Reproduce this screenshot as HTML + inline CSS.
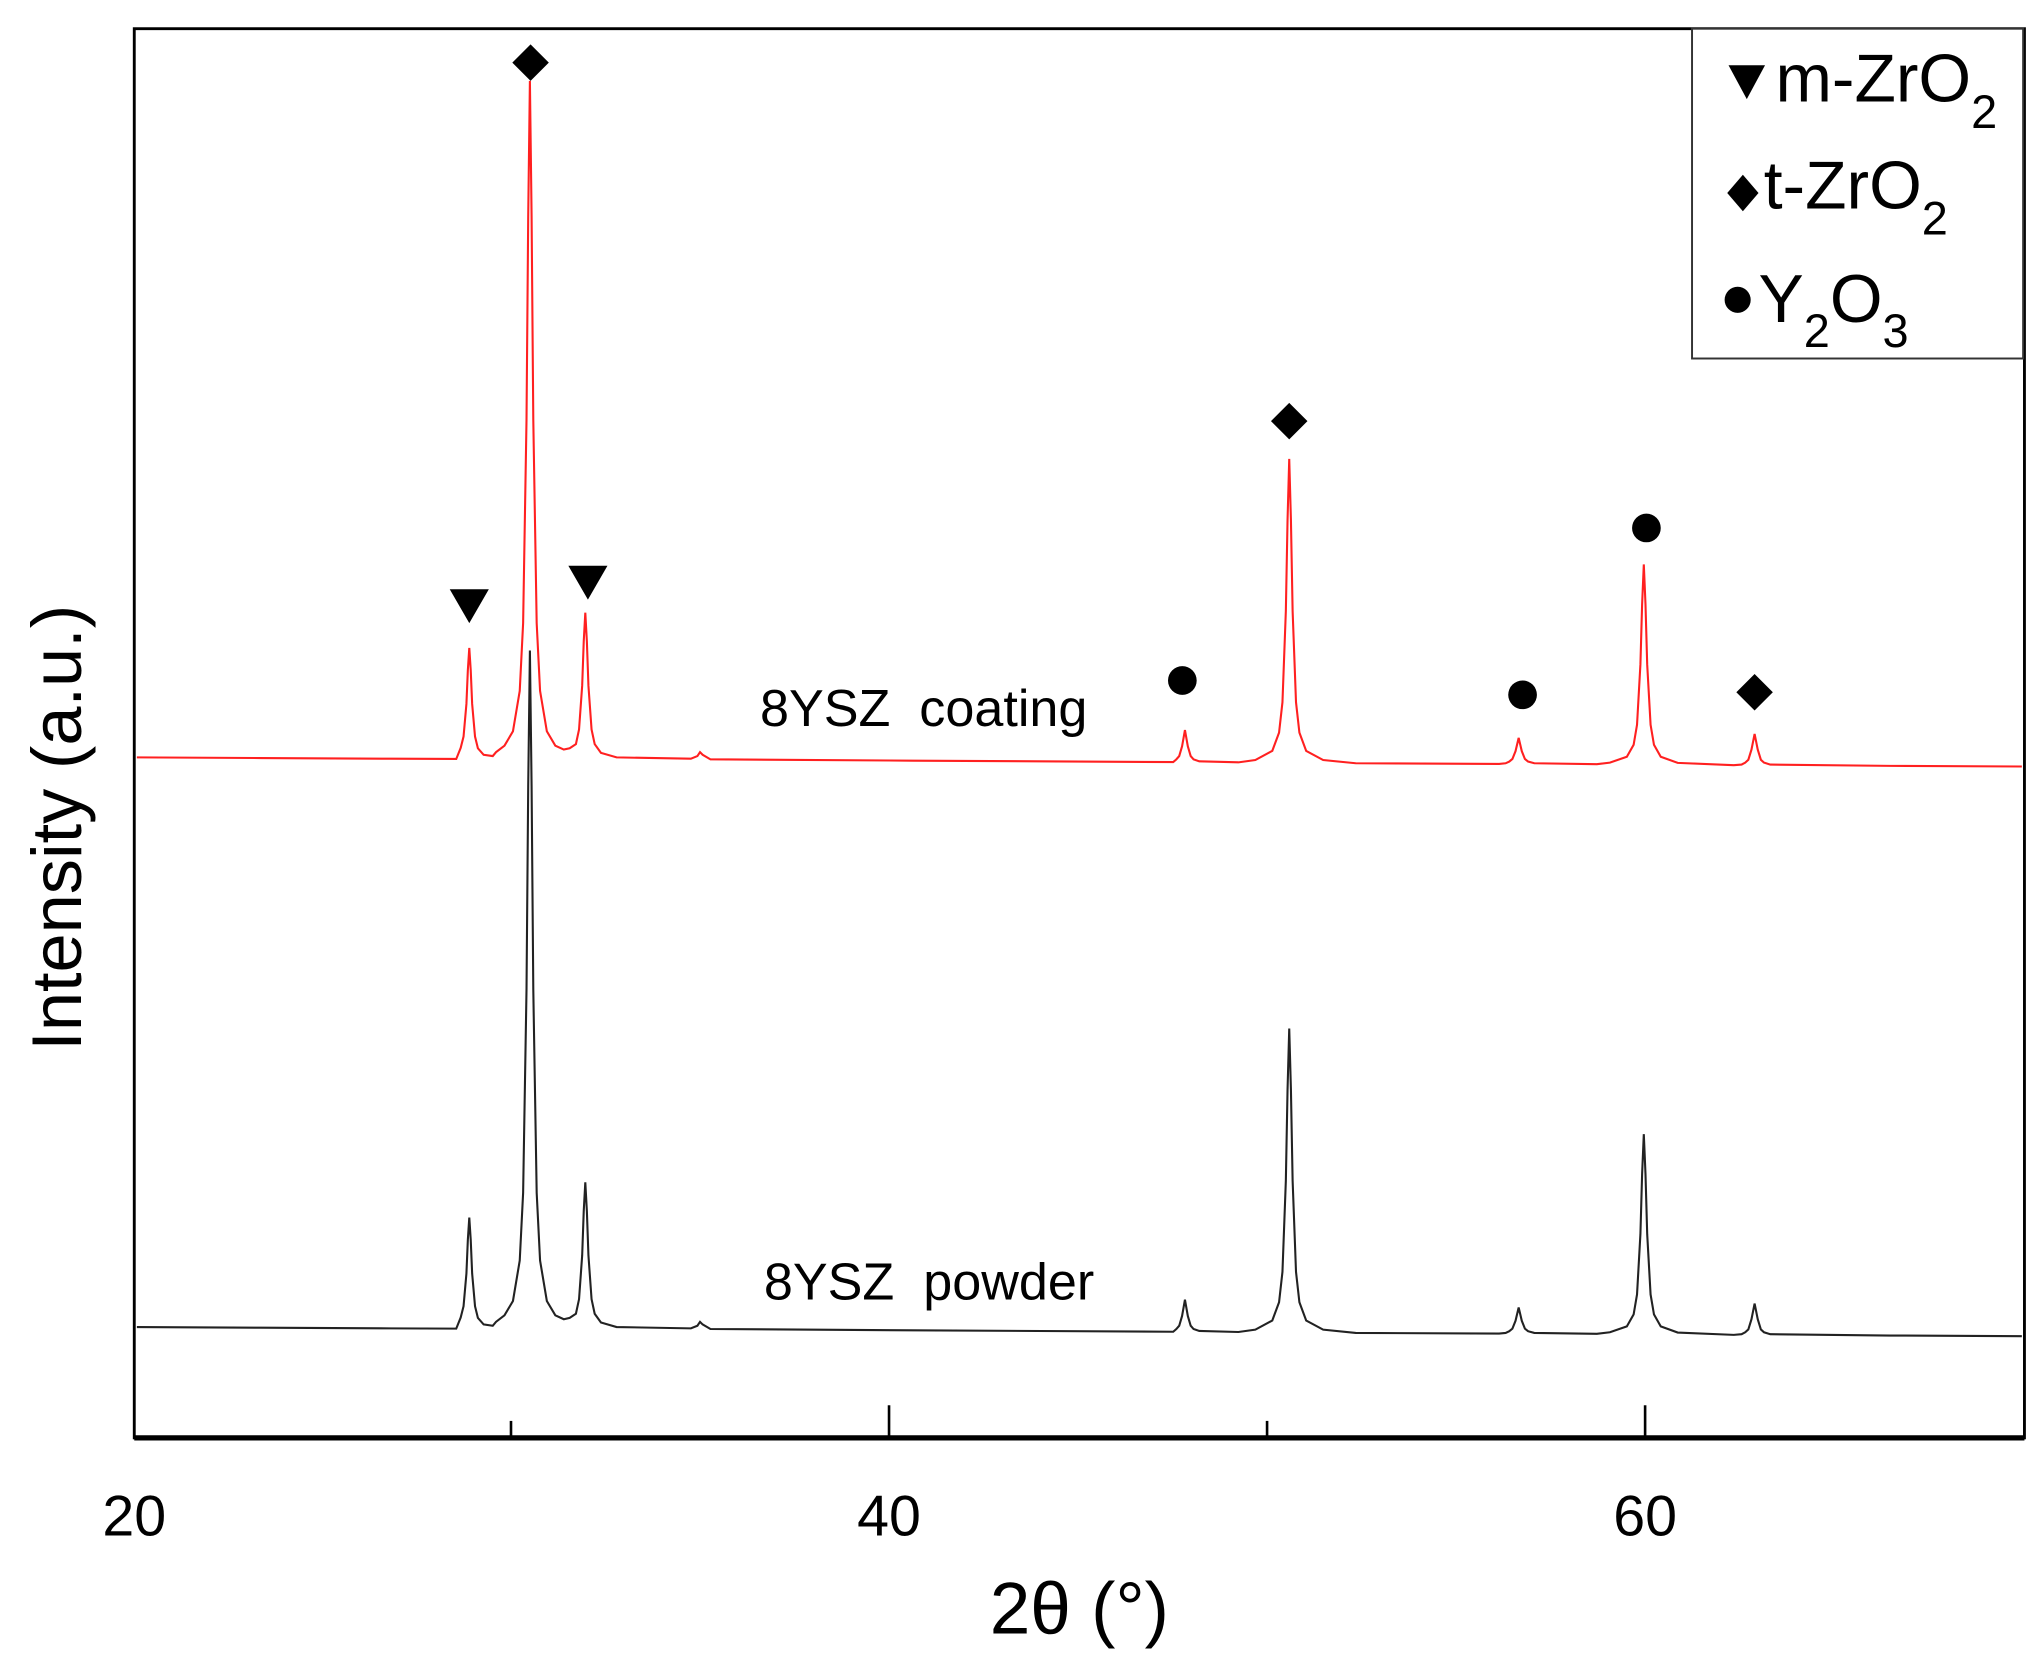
<!DOCTYPE html>
<html><head><meta charset="utf-8"><style>
html,body{margin:0;padding:0;background:#fff;}
svg{display:block;}
text{font-family:"Liberation Sans",Arial,sans-serif;}
</style></head><body>
<svg width="2044" height="1666" viewBox="0 0 1568 1278" xmlns="http://www.w3.org/2000/svg">
<defs>
<path id="tr" fill="none" d="M105,581 L200,581.5 L300,582 L350,582.2
L353.4,573.7 L355.6,565 L357.8,540 L358.9,514 L360,497 L361.1,514 L362.2,540 L364.4,565 L366.6,574 L371,579 L378,580
L380.5,577 L387,572 L393.5,561 L398.7,530 L401.3,478 L403.9,322 L405.2,166 L406.5,62 L407.8,166 L409.1,322 L411.7,478 L414.3,530 L419.5,561 L426,572 L432.5,575
L437,574 L441.8,570.8 L444.2,559.6 L446.6,526 L447.8,492 L449,470 L450.2,492 L451.4,526 L453.8,559.6 L456.2,570.8 L461,577.5 L473,581
L530,582 L535,580 L537,577 L539,579 L545,582.5 L700,583.5 L900,584.6
L902.4,582.5 L904.6,580 L906.8,572.5 L909,560 L911.2,572.5 L913.4,580 L915.6,582.5 L920,584 L950,584.8
L963,583 L976,576 L981.2,562 L983.8,538.7 L986.4,468.8 L987.7,399 L989,352 L990.3,399 L991.6,468.8 L994.2,538.7 L996.8,562 L1002,576 L1015,583 L1040,585.5 L1150,586
L1155,585.5 L1157.8,584.2 L1160.2,582.2 L1162.6,576.2 L1165,566 L1167.4,576.2 L1169.8,582.2 L1172.2,584.2 L1177,585.5 L1225,586.2
L1235,585 L1248,580.5 L1253.2,571.3 L1255.8,556 L1258.4,509.7 L1259.7,463.7 L1261,433 L1262.3,463.7 L1263.6,509.7 L1266.2,556 L1268.8,571.3 L1274,580.5 L1287,585.2 L1330,587
L1336,586.5 L1338.8,585 L1341.2,582.8 L1343.6,575 L1346,563 L1348.4,575 L1350.8,582.8 L1353.2,585 L1358,586.5 L1450,587.5 L1551,588"/>
</defs>
<rect x="0" y="0" width="1568" height="1278" fill="#fff"/>
<use href="#tr" stroke="#ff2020" stroke-width="1.6"/>
<use href="#tr" stroke="#222" stroke-width="1.6" transform="translate(0,437)"/>
<rect x="103" y="22" width="1450" height="1081" fill="none" stroke="#000" stroke-width="2.2"/>
<line x1="103" y1="1103" x2="1553" y2="1103" stroke="#000" stroke-width="4"/>
<g stroke="#000" stroke-width="2">
<line x1="682" y1="1103" x2="682" y2="1078"/>
<line x1="1262" y1="1103" x2="1262" y2="1078"/>
<line x1="392" y1="1103" x2="392" y2="1090"/>
<line x1="972" y1="1103" x2="972" y2="1090"/>
</g>
<g font-size="44" text-anchor="middle" fill="#000">
<text x="103" y="1178">20</text>
<text x="682" y="1178">40</text>
<text x="1262" y="1178">60</text>
</g>
<text x="828" y="1253" font-size="56" text-anchor="middle">2θ (°)</text>
<text transform="translate(62,635) rotate(-90)" font-size="54" text-anchor="middle">Intensity (a.u.)</text>
<text x="583" y="557" font-size="40">8YSZ&#160;&#160;coating</text>
<text x="586" y="997" font-size="40">8YSZ&#160;&#160;powder</text>
<g fill="#000">
<polygon points="345,452 375,452 360,478"/>
<polygon points="436,434 466,434 451,460"/>
<polygon points="407,34 421,48 407,62 393,48"/>
<polygon points="989,309 1003,323 989,337 975,323"/>
<polygon points="1346,517 1360,531 1346,545 1332,531"/>
<circle cx="907" cy="522" r="11"/>
<circle cx="1168" cy="533" r="11"/>
<circle cx="1263" cy="405" r="11"/>
</g>
<rect x="1298" y="22" width="254" height="253" fill="#fff" stroke="#333" stroke-width="1.5"/>
<g fill="#000">
<polygon points="1326,50 1354,50 1340,76"/>
<polygon points="1337,134 1349,148 1337,162 1325,148"/>
<circle cx="1333" cy="230" r="10"/>
</g>
<g font-size="52" fill="#000">
<text x="1362" y="78">m-ZrO<tspan font-size="36" dy="20">2</tspan></text>
<text x="1353" y="160">t-ZrO<tspan font-size="36" dy="20">2</tspan></text>
<text x="1349" y="247">Y<tspan font-size="36" dy="19">2</tspan><tspan dy="-19">O</tspan><tspan font-size="36" dy="19">3</tspan></text>
</g>
</svg>
</body></html>
